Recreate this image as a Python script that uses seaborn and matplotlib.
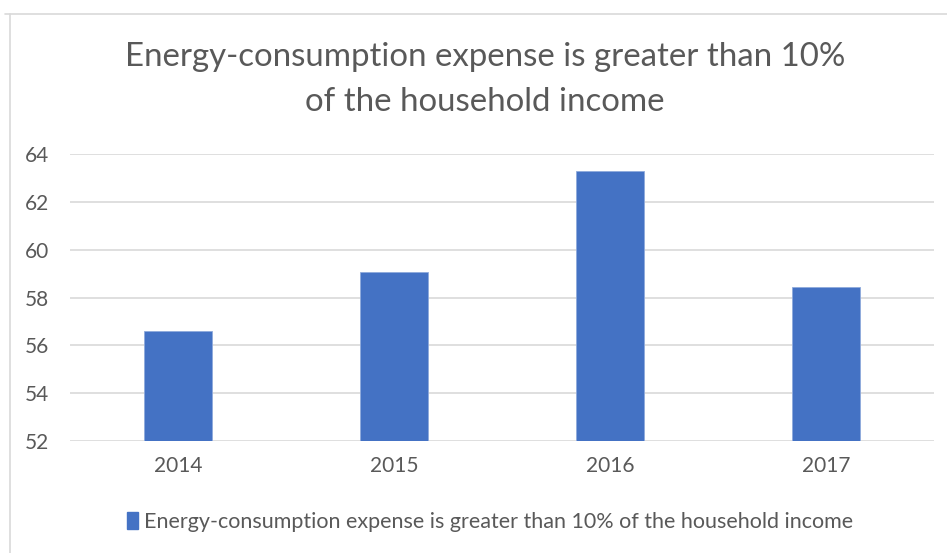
import matplotlib
matplotlib.use("Agg")
import matplotlib.pyplot as plt
from matplotlib.patches import Patch
from matplotlib.lines import Line2D
import seaborn as sns
import pandas as pd

years = ["2014", "2015", "2016", "2017"]
share = [56.6, 59.05, 63.3, 58.45]
series_name = "Energy-consumption expense is greater than 10% of the household income"
title_lines = ["Energy-consumption expense is greater than 10%", "of the household income"]
y_ticks = [52, 54, 56, 58, 60, 62, 64]

sns.set_theme(style="white")
plt.rcParams["font.family"] = ["Lato", "DejaVu Sans"]

BAR = "#4472C4"
GRID = "#D9D9D9"
TEXT = "#595959"

df = pd.DataFrame({"year": years, "share": share})

fig = plt.figure(figsize=(9.47, 5.53), dpi=100)
ax = fig.add_axes([70 / 947, 1 - 441 / 553, 864 / 947, 287 / 553])

sns.barplot(data=df, x="year", y="share", color=BAR, width=0.315,
            edgecolor="#8FAADC", linewidth=0.6, saturation=1, ax=ax, zorder=3)

ax.set_ylim(52, 64)
ax.set_xlim(-0.5, 3.5)
ax.set_yticks(y_ticks)
ax.set_yticklabels([str(t) for t in y_ticks])
ax.yaxis.grid(True, color=GRID, linewidth=1.2, zorder=0)
ax.set_axisbelow(True)
for s in ax.spines.values():
    s.set_visible(False)
ax.set_xlabel("")
ax.set_ylabel("")
ax.tick_params(axis="both", length=0, labelsize=15, labelcolor=TEXT)
ax.tick_params(axis="y", pad=15)
ax.tick_params(axis="x", pad=11)

# Chart title, two centred lines
fig.text(485 / 947, 1 - 57 / 553, title_lines[0], ha="center", va="center",
         fontsize=23.8, color=TEXT)
fig.text(485 / 947, 1 - 102 / 553, title_lines[1], ha="center", va="center",
         fontsize=23.8, color=TEXT)

# Legend below the plot
handle = Patch(facecolor=BAR, edgecolor=BAR)
fig.legend([handle], [series_name], loc="center", bbox_to_anchor=(490 / 947, 1 - 522 / 553),
           frameon=False, fontsize=15.5, labelcolor=TEXT, handlelength=0.5,
           handleheight=0.8, handletextpad=0.3)

# Outer chart frame (top and left edges)
fig.add_artist(Line2D([5 / 947, 1], [1 - 14 / 553, 1 - 14 / 553], color=GRID,
                      linewidth=1.2, transform=fig.transFigure))
fig.add_artist(Line2D([10 / 947, 10 / 947], [1 - 14 / 553, 0], color=GRID,
                      linewidth=1.2, transform=fig.transFigure))

fig.savefig("out.png", dpi=100, facecolor="white")
